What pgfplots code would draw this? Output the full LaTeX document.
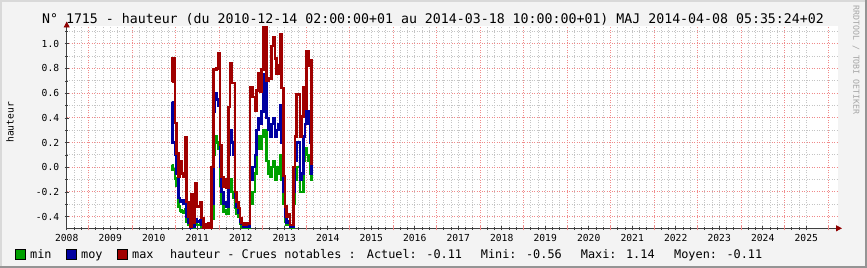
\documentclass[border=0pt]{standalone}
\usepackage{fontspec}
\setmainfont{DejaVu Sans Mono}
\usepackage{pgfplots}
\pgfplotsset{compat=1.18}
\usepackage{pgfplotstable}
\usetikzlibrary{arrows.meta}
\definecolor{bgc}{HTML}{F3F3F3}
\definecolor{cmin}{HTML}{00A000}
\definecolor{cmoy}{HTML}{0000A0}
\definecolor{cmax}{HTML}{A00000}
\definecolor{gridc}{HTML}{C4C4C4}
\definecolor{mgridc}{HTML}{F08A8A}
\definecolor{arrowc}{HTML}{900000}
\definecolor{axisc}{HTML}{404040}
\pgfplotstableread{
x max moy min
2010.413 0.69 0.53 0.02
2010.436 0.88 0.20 -0.02
2010.490 0.36 0.10 -0.09
2010.528 0.11 -0.05 -0.15
2010.566 -0.08 -0.25 -0.32
2010.605 0.05 -0.28 -0.35
2010.643 -0.05 -0.27 -0.36
2010.681 -0.08 -0.30 -0.37
2010.720 0.24 -0.28 -0.34
2010.758 -0.28 -0.40 -0.44
2010.796 -0.40 -0.45 -0.47
2010.834 -0.48 -0.49 -0.49
2010.873 -0.22 -0.45 -0.48
2010.911 -0.45 -0.48 -0.49
2010.949 -0.13 -0.42 -0.46
2010.988 -0.32 -0.44 -0.47
2011.064 -0.28 -0.43 -0.46
2011.103 -0.41 -0.47 -0.48
2011.141 -0.49 -0.49 -0.50
2011.179 -0.46 -0.48 -0.50
2011.218 -0.49 -0.49 -0.50
2011.256 -0.45 -0.48 -0.50
2011.294 -0.49 -0.49 -0.50
2011.332 0.00 -0.30 -0.42
2011.371 0.79 0.45 0.10
2011.409 0.79 0.60 0.25
2011.447 0.80 0.55 0.20
2011.486 0.92 0.50 0.15
2011.524 0.18 0.00 -0.15
2011.562 -0.08 -0.20 -0.30
2011.601 -0.16 -0.30 -0.36
2011.639 -0.10 -0.28 -0.35
2011.677 -0.17 -0.32 -0.38
2011.716 0.49 0.10 -0.20
2011.754 0.84 0.30 -0.10
2011.792 0.68 0.20 -0.20
2011.831 0.68 0.10 -0.25
2011.869 -0.20 -0.25 -0.33
2011.907 -0.28 -0.32 -0.38
2011.945 -0.33 -0.37 -0.40
2011.984 -0.41 -0.44 -0.46
2012.022 -0.45 -0.46 -0.48
2012.060 -0.47 -0.48 -0.49
2012.137 -0.45 -0.47 -0.49
2012.175 -0.46 -0.48 -0.49
2012.214 0.65 -0.10 -0.30
2012.275 0.57 0.00 -0.20
2012.329 0.46 0.10 -0.05
2012.367 0.62 0.30 0.15
2012.405 0.76 0.40 0.25
2012.444 0.61 0.35 0.15
2012.482 0.79 0.45 0.25
2012.520 1.14 0.75 0.30
2012.597 0.70 0.40 0.05
2012.635 0.72 0.30 -0.05
2012.673 0.72 0.25 -0.08
2012.712 0.98 0.35 0.00
2012.750 1.05 0.40 0.05
2012.788 0.88 0.25 -0.10
2012.827 0.76 0.30 0.00
2012.865 0.83 0.35 -0.05
2012.903 1.08 0.50 0.10
2012.942 0.64 0.20 -0.10
2012.980 -0.07 -0.20 -0.30
2013.018 -0.32 -0.40 -0.44
2013.056 -0.40 -0.45 -0.47
2013.095 -0.38 -0.44 -0.47
2013.133 -0.47 -0.48 -0.49
2013.210 0.00 -0.20 -0.30
2013.248 0.25 0.05 -0.10
2013.286 0.59 0.20 0.00
2013.363 0.25 -0.10 -0.20
2013.401 0.41 -0.05 -0.20
2013.440 0.65 0.25 0.05
2013.478 0.47 0.35 0.15
2013.516 0.94 0.45 0.10
2013.555 0.82 0.35 0.05
2013.593 0.87 0.20 -0.05
2013.631 0.03 -0.05 -0.10
2013.669 0.03 -0.05 -0.10
}\data
\begin{document}
\begin{tikzpicture}
\useasboundingbox (0,0) rectangle (867bp,268bp);
\fill[bgc] (0,0) rectangle (867bp,268bp);
\draw[line width=2bp, draw=black!15] (1bp,0) -- (1bp,267bp) -- (867bp,267bp);
\draw[line width=2bp, draw=black!42] (0,1bp) -- (866bp,1bp) -- (866bp,268bp);
\begin{axis}[
  at={(66.7bp,39.7bp)}, anchor=south west,
  scale only axis, width=771.3bp, height=201.8bp,
  xmin=2008, xmax=2025.73, ymin=-0.495, ymax=1.14,
  axis x line*=bottom, axis y line*=left,
  axis background/.style={fill=white},
  axis line style={draw=axisc, line width=0.8bp},
  x axis line style={-{Triangle[length=6bp,width=6bp,color=arrowc]}, shorten >=-4bp},
  y axis line style={-{Triangle[length=6bp,width=6bp,color=arrowc]}, shorten >=-5bp},
  xtick={2008,2009,2010,2011,2012,2013,2014,2015,2016,2017,2018,2019,2020,2021,2022,2023,2024,2025},
  xticklabels={2008,2009,2010,2011,2012,2013,2014,2015,2016,2017,2018,2019,2020,2021,2022,2023,2024,2025},
  minor x tick num=5,
  ytick={-0.4,-0.2,0,0.2,0.4,0.6,0.8,1.0},
  minor ytick={-0.3,-0.1,0.1,0.3,0.5,0.7,0.9,1.1},
  extra x ticks={2008.5,2009.5,2010.5,2011.5,2012.5,2013.5,2014.5,2015.5,2016.5,2017.5,2018.5,2019.5,2020.5,2021.5,2022.5,2023.5,2024.5,2025.5},
  extra x tick labels={},
  extra x tick style={xmajorgrids=true, major x grid style={draw=mgridc, line width=0.8bp, dash pattern=on 1bp off 1.5bp}, major tick style={draw=mgridc}},
  xmajorgrids, xminorgrids, ymajorgrids, yminorgrids,
  major x grid style={draw=gridc, line width=0.8bp, dash pattern=on 1bp off 1.5bp},
  minor x grid style={draw=gridc, line width=0.8bp, dash pattern=on 1bp off 1.5bp},
  major y grid style={draw=mgridc, line width=0.8bp, dash pattern=on 1bp off 1.5bp},
  minor y grid style={draw=gridc, line width=0.8bp, dash pattern=on 1bp off 1.5bp},
  tick align=center, major tick length=4bp, minor tick length=3bp,
  tick style={draw=axisc, line width=0.6bp},
  /pgf/number format/assume math mode=true,
  xticklabel style={font=\fontsize{9.7}{11}\selectfont, yshift=-1bp},
  yticklabel style={font=\fontsize{9.7}{11}\selectfont, xshift=-2bp, /pgf/number format/.cd, fixed, fixed zerofill, precision=1},
]
\addplot[const plot, draw=cmin, line width=2.4bp] table[x=x,y=min]{\data};
\addplot[const plot, draw=cmoy, line width=2.4bp] table[x=x,y=moy]{\data};
\addplot[const plot, draw=cmax, line width=2.4bp] table[x=x,y=max]{\data};
\end{axis}
\node[anchor=base, inner sep=0, font=\fontsize{13.3}{16}\selectfont] at (433bp,244bp) {N° 1715 - hauteur (du 2010-12-14 02:00:00+01 au 2014-03-18 10:00:00+01) MAJ 2014-04-08 05:35:24+02};
\node[rotate=90, inner sep=0, font=\fontsize{9.7}{11}\selectfont] at (10bp,145.7bp) {hauteur};
\node[rotate=-90, inner sep=0, font=\fontsize{8.3}{10}\selectfont, text=black!35] at (856bp,208bp) {RRDTOOL / TOBI OETIKER};
\filldraw[fill=cmin, draw=black, line width=0.8bp] (15bp,8.7bp) rectangle (25bp,18.7bp);
\filldraw[fill=cmoy, draw=black, line width=0.8bp] (66.7bp,8.7bp) rectangle (76.7bp,18.7bp);
\filldraw[fill=cmax, draw=black, line width=0.8bp] (117.3bp,8.7bp) rectangle (127.3bp,18.7bp);
\begin{scope}[every node/.style={anchor=base west, inner sep=0, font=\fontsize{11.9}{14}\selectfont}]
\node at (30bp,9.7bp) {min};
\node at (81bp,9.7bp) {moy};
\node at (132bp,9.7bp) {max};
\node at (170bp,9.7bp) {hauteur - Crues notables :};
\node at (366.7bp,9.7bp) {Actuel: -0.11};
\node at (480.7bp,9.7bp) {Mini: -0.56};
\node at (580.7bp,9.7bp) {Maxi: 1.14};
\node at (674bp,9.7bp) {Moyen: -0.11};
\end{scope}
\end{tikzpicture}
\end{document}
